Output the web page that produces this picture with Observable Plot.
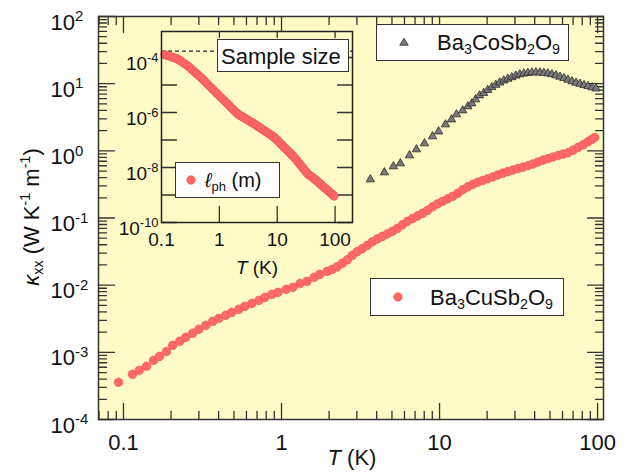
<!DOCTYPE html>
<html><head><meta charset="utf-8">
<script src="https://cdn.jsdelivr.net/npm/d3@7"></script>
<script src="https://cdn.jsdelivr.net/npm/@observablehq/plot@0.6"></script>
<style>
body{margin:0;background:#fff;font-family:"Liberation Sans",Arial,sans-serif;color:#111;}
#wrap{position:relative;width:627px;height:476px;overflow:hidden;}
#wrap svg.plt{position:absolute;}
.box{position:absolute;background:#fff;border:1.5px solid #333;box-sizing:border-box;}
.lt{position:absolute;white-space:nowrap;line-height:1;}
.lt sub{font-size:0.65em;vertical-align:-0.3em;line-height:0;}
.lbl{position:absolute;white-space:nowrap;line-height:1;}
.lbl sub{font-size:0.65em;vertical-align:-0.3em;line-height:0;}
.lbl sup{font-size:0.65em;vertical-align:0.6em;line-height:0;}
</style></head><body><div id="wrap"></div>
<script>
// ---------- data ----------
const seriesNames = ["Ba3CuSb2O9", "Ba3CoSb2O9"];
const cuT = [0.093,0.114,0.126,0.14,0.155,0.169,0.187,0.205,0.227,0.248,0.274,0.3,0.332,0.367,0.401,0.444,0.485,0.537,0.586,0.65,0.72,0.786,0.87,0.95,1.07,1.18,1.31,1.45,1.61,1.75,
  1.945,2.092,2.251,2.422,2.606,2.803,3.016,3.245,3.491,3.756,4.04,4.347,4.676,5.03,5.412,5.822,6.263,6.738,7.249,7.799,8.39,9.029,9.712,10.45,11.24,12.09,13.01,14.0,15.06,16.2,17.43,18.75,20.17,21.7,23.35,25.12,27.02,29.07,31.28,33.65,36.2,38.95,41.9,45.08,48.5,52.18,56.14,60.39,64.98,69.9,75.2,80.9,87.0,91.5,96.0];
const cuKappa = [3.58e-4,4.71e-4,5.4e-4,6.19e-4,7.6e-4,8.7e-4,1.03e-3,1.27e-3,1.46e-3,1.67e-3,1.92e-3,2.2e-3,2.52e-3,2.89e-3,3.2e-3,3.56e-3,3.94e-3,4.37e-3,4.84e-3,5.36e-3,5.94e-3,6.58e-3,7.3e-3,7.8e-3,8.67e-3,9.27e-3,1.06e-2,1.14e-2,1.31e-2,1.45e-2,
  0.01605,0.01718,0.01872,0.02111,0.02379,0.02777,0.03162,0.03504,0.03911,0.04422,0.04887,0.05324,0.05799,0.06318,0.07002,0.0792,0.08899,0.09797,0.1074,0.1171,0.1297,0.1468,0.1621,0.1766,0.1924,0.2096,0.2324,0.2628,0.2902,0.3162,0.3398,0.3614,0.3831,0.4088,0.4378,0.4658,0.4903,0.5179,0.5452,0.5719,0.5999,0.6383,0.6815,0.7271,0.7655,0.8086,0.8511,0.8931,0.9369,1.024,1.124,1.228,1.366,1.47,1.58];
const coT = [3.65,4.48,5.1,5.65,6.45,7.14,8.03,9.03,9.86,10.9,11.9,12.8,14.0,15.1,16.0,16.9,17.9,19.02,20.17,21.39,22.68,24.04,25.49,27.02,28.65,30.38,32.21,34.15,36.2,38.38,40.7,43.15,45.74,48.5,51.42,54.51,57.8,61.28,64.98,68.88,73.03,77.43,82.09,87.0,92.3,97.8];
const coKappa = [0.375,0.477,0.586,0.65,0.855,1.05,1.29,1.64,1.94,2.47,2.93,3.48,3.99,4.58,5.07,5.82,6.67,7.25,8.03,8.84,9.6,10.38,11.12,11.79,12.45,13.15,13.75,14.13,14.43,14.63,14.68,14.63,14.43,14.18,13.8,13.29,12.67,12.07,11.43,10.82,10.31,9.93,9.53,9.18,8.81,8.46];
// phonon mean free path (m), same temperatures as cuT (first point not shown in inset)
const lph = [null,1.27e-4,1.18e-4,1.10e-4,1.02e-4,9.6e-5,8.97e-5,7.89e-5,6.84e-5,6.04e-5,5.24e-5,4.47e-5,3.71e-5,3.08e-5,2.62e-5,2.17e-5,1.83e-5,1.48e-5,1.23e-5,9.9e-6,8.0e-6,6.65e-6,5.36e-6,4.47e-6,3.5e-6,2.85e-6,2.3e-6,1.86e-6,1.49e-6,1.25e-6,
  1.0e-6,8.75e-7,7.98e-7,7.28e-7,6.64e-7,6.05e-7,5.51e-7,5.03e-7,4.58e-7,4.18e-7,3.8e-7,3.43e-7,3.1e-7,2.79e-7,2.52e-7,2.28e-7,2.05e-7,1.85e-7,1.67e-7,1.51e-7,1.36e-7,1.21e-7,1.04e-7,8.89e-8,7.62e-8,6.54e-8,5.61e-8,4.82e-8,4.13e-8,3.55e-8,3.04e-8,2.61e-8,2.21e-8,1.83e-8,1.51e-8,1.25e-8,1.03e-8,8.53e-9,7.06e-9,5.86e-9,5.22e-9,4.65e-9,4.14e-9,3.66e-9,3.2e-9,2.8e-9,2.45e-9,2.14e-9,1.87e-9,1.64e-9,1.44e-9,1.26e-9,1.1e-9,1.0e-9,9.2e-10];
const sampleSize = [1.7e-4];
const xTickLabels = [0.1, 1, 10, 100];
const yTickExps = [-4, -3, -2, -1, 0, 1, 2];
const insetXTickLabels = [0.1, 1, 10, 100];
const insetYTickExps = [-10, -9, -8, -7, -6, -5, -4];
const insetYLabelExps = [-10, -8, -6, -4];
const xLabel = "T (K)";
const legendL = "ℓph (m)";
const sampleLabel = "Sample size";

// ---------- style ----------
const yellow = "#FEFBC6";
const frameCol = "#333";
const redFill = "#FF6868", redStroke = "#EE5858";
const font = '"Liberation Sans", Arial, sans-serif';
const tickLine = {draw(ctx, l) { ctx.moveTo(0, 0); ctx.lineTo(0, -l); }};
function tickMarks(values, side, len) {
  const rot = {left: 90, right: -90, bottom: 0, top: 180}[side];
  const o = {frameAnchor: side, length: len, rotate: rot, anchor: "start", shape: tickLine, stroke: frameCol, strokeWidth: 1.3};
  if (side === "left" || side === "right") o.y = d => d; else o.x = d => d;
  return Plot.vector(values, o);
}
function minorsOf(lo, hi) { // minor tick positions for decades lo..hi
  const out = [];
  for (let e = lo; e < hi; e++) for (let m = 2; m <= 9; m++) out.push(m * Math.pow(10, e));
  return out;
}
const pow10 = e => Math.pow(10, e);

// ---------- main plot ----------
const cu = cuT.map((t, i) => ({T: t, k: cuKappa[i]}));
const co = coT.map((t, i) => ({T: t, k: coKappa[i]}));
const yMaj = yTickExps.map(pow10);
const yMin = minorsOf(-4, 2);
const xMaj = xTickLabels;
const xMin = minorsOf(-2, 2).filter(v => v > 0.0695 && v < 109);

const main = Plot.plot({
  width: 627, height: 476, marginLeft: 98, marginTop: 16, marginRight: 24, marginBottom: 57,
  style: {background: "transparent", fontFamily: font, color: "#111", overflow: "visible"},
  x: {type: "log", domain: [0.0695, 109], axis: null, label: null},
  y: {type: "log", domain: [1e-4, 100], axis: null, label: null},
  marks: [
    Plot.frame({fill: yellow, stroke: null}),
    tickMarks(yMaj, "left", 16), tickMarks(yMin, "left", 8),
    tickMarks(yMaj, "right", 16), tickMarks(yMin, "right", 8),
    tickMarks(xMaj, "bottom", 16), tickMarks(xMin, "bottom", 8),
    tickMarks(xMaj, "top", 16), tickMarks(xMin, "top", 8),
    Plot.axisX(xTickLabels, {anchor: "bottom", tickSize: 0, tickPadding: 15, fontSize: 22, tickFormat: d => String(d), label: null}),
    Plot.axisY(yMaj, {anchor: "left", tickSize: 0, tickPadding: 48, textAnchor: "start", dy: 6, fontSize: 22, tickFormat: d => "10^" + Math.round(Math.log10(d)), label: null}),
    Plot.dot(cu, {x: "T", y: "k", r: 4.3, fill: redFill, stroke: redStroke, strokeWidth: 0.7}),
    Plot.dot(co, {x: "T", y: "k", r: 3.1, symbol: "triangle", fill: "#7a7a7a", stroke: "#2a2a2a", strokeWidth: 0.8}),
    Plot.frame({stroke: frameCol, strokeWidth: 1.5})
  ]
});
main.classList.add("plt");
main.style.left = "0px"; main.style.top = "0px";

// ---------- inset ----------
const insetData = cuT.map((t, i) => ({T: t, l: lph[i]})).filter(d => d.l != null);
const iml = 50, imt = 2, imr = 4, imb = 50;
const inset = Plot.plot({
  width: iml + 191 + imr, height: imt + 191 + imb, marginLeft: iml, marginTop: imt, marginRight: imr, marginBottom: imb,
  style: {background: "transparent", fontFamily: font, color: "#111", overflow: "visible"},
  x: {type: "log", domain: [0.1, 200], axis: null, label: null},
  y: {type: "log", domain: [1e-10, 8.8e-4], axis: null, label: null},
  marks: [
    Plot.frame({fill: yellow, stroke: null}),
    Plot.ruleY(sampleSize, {stroke: "#222", strokeWidth: 1.2, strokeDasharray: "4,3"}),
    tickMarks(insetYTickExps.map(pow10), "left", 15),
    tickMarks(insetYTickExps.map(pow10), "right", 15),
    tickMarks([1, 10, 100], "bottom", 16),
    tickMarks([1, 10, 100], "top", 6),
    Plot.axisX(insetXTickLabels, {anchor: "bottom", tickSize: 0, tickPadding: 10, fontSize: 19, tickFormat: d => String(d), label: null}),
    Plot.axisY(insetYLabelExps.map(pow10), {anchor: "left", tickSize: 0, tickPadding: 3, dy: 6, fontSize: 19, tickFormat: d => "10^" + Math.round(Math.log10(d)), label: null}),
    Plot.dot(insetData, {x: "T", y: "l", r: 4.2, fill: redFill, stroke: redStroke, strokeWidth: 0.7}),
    Plot.frame({stroke: "#222", strokeWidth: 1.5})
  ]
});
inset.classList.add("plt");
inset.style.left = (161 - iml) + "px"; inset.style.top = (31 - imt) + "px";

function supify(svg) {
  d3.select(svg).selectAll("text").each(function() {
    const m = /^10\^(-?\d+)$/.exec(this.textContent.trim());
    if (!m) return;
    const s = d3.select(this);
    s.text("10");
    s.append("tspan").attr("dy", "-0.55em").attr("font-size", "0.68em").text(m[1]);
  });
}
supify(main); supify(inset);

const wrap = document.getElementById("wrap");
wrap.appendChild(main);
wrap.appendChild(inset);

// ---------- labels & legends ----------
const chem = s => s.replace(/(\d+)/g, "<sub>$1</sub>");
function addBox(x, y, w, h, inner) {
  const d = document.createElement("div");
  d.className = "box";
  Object.assign(d.style, {left: x + "px", top: y + "px", width: w + "px", height: h + "px"});
  d.innerHTML = inner;
  wrap.appendChild(d);
}
const circleSym = (cx, cy) => `<svg style="position:absolute;left:${cx-6}px;top:${cy-6}px" width="12" height="12"><circle cx="6" cy="6" r="4.2" fill="${redFill}" stroke="${redStroke}" stroke-width="0.7"/></svg>`;
const triSym = (cx, cy) => `<svg style="position:absolute;left:${cx-6}px;top:${cy-6}px" width="12" height="12"><polygon points="6,2.2 10.2,9.2 1.8,9.2" fill="#7a7a7a" stroke="#2a2a2a" stroke-width="0.8"/></svg>`;

addBox(376, 24, 193, 37, triSym(27, 17) + `<span class="lt" style="left:60px;top:7px;font-size:22px">${chem(seriesNames[1])}</span>`);
addBox(370, 278, 194, 38, circleSym(27, 18) + `<span class="lt" style="left:59px;top:8px;font-size:22px">${chem(seriesNames[0])}</span>`);
addBox(217, 39, 132, 33, `<span class="lt" style="left:3px;top:6px;font-size:22px">${sampleLabel}</span>`);
const lp = legendL.match(/^(ℓ)(ph)(.*)$/);
addBox(175, 162, 105, 36, circleSym(15, 17) + `<span class="lt" style="left:29px;top:7px;font-size:20px"><i>${lp[1]}</i><sub>${lp[2]}</sub>${lp[3]}</span>`);

function addLabel(html, cx, cy, size, rotate) {
  const d = document.createElement("div");
  d.className = "lbl";
  d.style.fontSize = size + "px";
  d.style.left = cx + "px"; d.style.top = cy + "px";
  d.style.transform = "translate(-50%,-50%)" + (rotate ? ` rotate(${rotate}deg)` : "");
  d.innerHTML = html;
  wrap.appendChild(d);
}
const xl = xLabel.match(/^(T)(.*)$/);
addLabel(`<i>${xl[1]}</i>${xl[2]}`, 352, 458, 22, 0);
addLabel(`<i>${xl[1]}</i>${xl[2]}`, 257, 267, 19, 0);
addLabel(`<i>κ</i><sub>xx</sub> (W K<sup>-1</sup> m<sup>-1</sup>)`, 32, 217, 22, -90);
</script></body></html>
